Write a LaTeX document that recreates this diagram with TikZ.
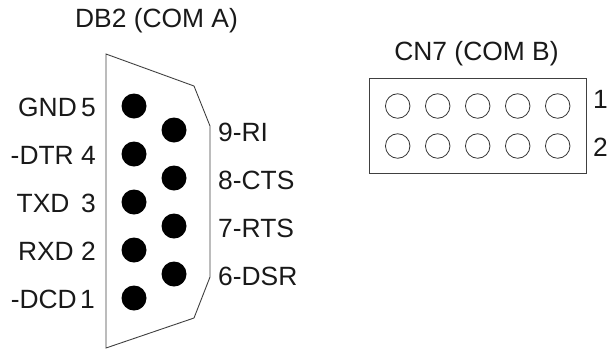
\documentclass[tikz,border=0pt]{standalone}
\usepackage{fontspec}
\setmainfont{Liberation Sans}
\begin{document}
\begin{tikzpicture}[x=1pt,y=-1pt,
  lab/.style={inner sep=0pt,font=\fontsize{26.4}{26.4}\selectfont,text=black!90},
  solidpin/.style={circle,fill=black,draw=none,minimum size=25pt,inner sep=0pt},
  openpin/.style={circle,draw=black!80,line width=0.8pt,minimum size=24.5pt,inner sep=0pt},
  outline/.style={draw=black!75,line width=0.9pt}]
\useasboundingbox (0,0) rectangle (607,349);
\draw[outline] (106,54) -- (194,86) -- (210,126) -- (210,277) -- (194,318) -- (106,348) -- cycle;
\foreach \y/\n in {106/5,154/4,202/3,250/2,298/1}
  \node[solidpin] (a\n) at (134,\y) {};
\foreach \y/\n in {130/9,178/8,226/7,274/6}
  \node[solidpin] (a\n) at (174,\y) {};
\node[lab,anchor=base] (t1) at (156.5,27.5) {DB2 (COM A)};
\node[lab,anchor=base east] (l5) at (96,116.5) {GND\hspace{4.3pt}5};
\node[lab,anchor=base east] (l4) at (96,164.5) {-DTR 4};
\node[lab,anchor=base east] (l3) at (96,212.5) {TXD\hspace{11.6pt}3};
\node[lab,anchor=base east] (l2) at (96,260.5) {RXD 2};
\node[lab,anchor=base east] (l1) at (95,308) {-DCD\hspace{3.3pt}1};
\node[lab,anchor=base west] (l9) at (218,141) {9-RI};
\node[lab,anchor=base west] (l8) at (218,189) {8-CTS};
\node[lab,anchor=base west] (l7) at (218,237) {7-RTS};
\node[lab,anchor=base west] (l6) at (218,285) {6-DSR};
\node[lab,anchor=base] (t2) at (476.5,60) {CN7 (COM B)};
\draw[outline] (369.5,78) rectangle (586,173);
\foreach \x/\c in {397.7/1,437.7/2,477.7/3,517.7/4,557.7/5}{
  \node[openpin] (b1\c) at (\x,106) {};
  \node[openpin] (b2\c) at (\x,146) {};
}
\node[lab,anchor=base west] (n1) at (593,108.5) {1};
\node[lab,anchor=base west] (n2) at (593,156.5) {2};
\end{tikzpicture}
\end{document}
